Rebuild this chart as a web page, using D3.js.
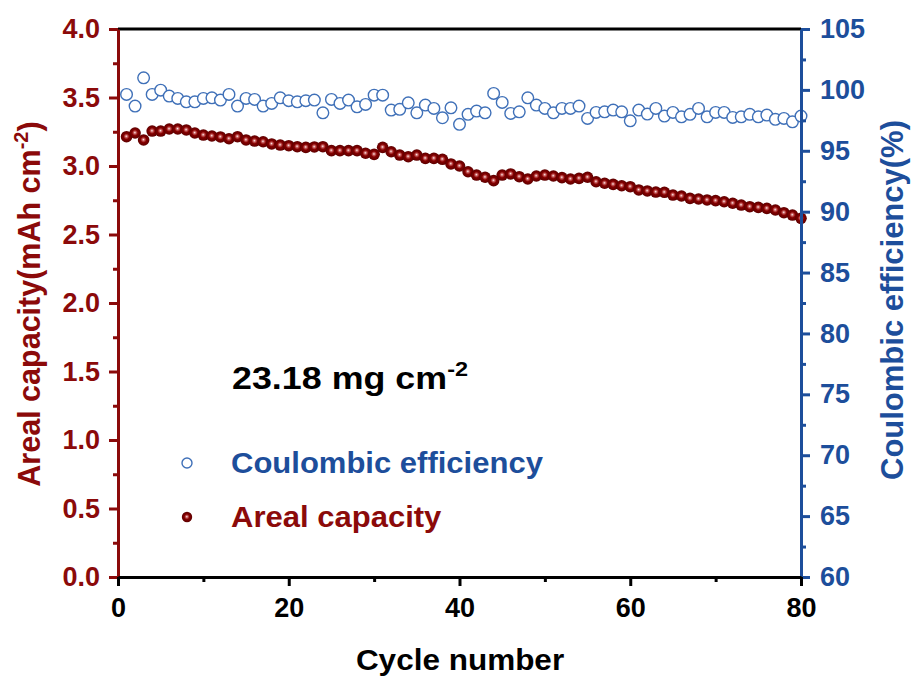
<!DOCTYPE html>
<html>
<head>
<meta charset="utf-8">
<script src="https://cdn.jsdelivr.net/npm/d3@7"></script>
<style>
  html, body { margin: 0; padding: 0; background: #fff; }
  svg text { font-family: "Liberation Sans", Arial, sans-serif; font-weight: bold; }
</style>
</head>
<body>
<svg id="chart" width="912" height="680"></svg>
<script>
// Cycle index 1..80
const cycles = d3.range(1, 81);

// Areal capacity (mAh cm^-2) per cycle
const capacity = [
  3.214, 3.241, 3.190, 3.255, 3.255, 3.270, 3.270, 3.263, 3.241, 3.226,
  3.219, 3.212, 3.199, 3.214, 3.190, 3.182, 3.177, 3.161, 3.153, 3.148,
  3.141, 3.136, 3.139, 3.141, 3.112, 3.112, 3.112, 3.112, 3.093, 3.085,
  3.136, 3.104, 3.080, 3.068, 3.080, 3.056, 3.056, 3.049, 3.015, 3.000,
  2.958, 2.934, 2.918, 2.893, 2.934, 2.942, 2.922, 2.905, 2.927, 2.934,
  2.927, 2.915, 2.905, 2.910, 2.918, 2.885, 2.874, 2.866, 2.856, 2.849,
  2.825, 2.818, 2.810, 2.808, 2.788, 2.781, 2.764, 2.759, 2.752, 2.747,
  2.739, 2.728, 2.715, 2.703, 2.698, 2.691, 2.679, 2.659, 2.642, 2.618
];

// Coulombic efficiency (%) per cycle
const efficiency = [
  99.63, 98.67, 100.99, 99.63, 99.98, 99.49, 99.30, 99.02, 99.02, 99.30,
  99.35, 99.16, 99.63, 98.67, 99.30, 99.22, 98.67, 98.89, 99.35, 99.11,
  99.02, 99.11, 99.16, 98.12, 99.22, 98.89, 99.16, 98.61, 98.81, 99.57,
  99.57, 98.34, 98.40, 98.94, 98.12, 98.75, 98.48, 97.71, 98.53, 97.17,
  97.99, 98.26, 98.12, 99.71, 98.97, 98.07, 98.20, 99.35, 98.75, 98.48,
  98.12, 98.48, 98.48, 98.67, 97.66, 98.15, 98.20, 98.34, 98.20, 97.46,
  98.34, 98.01, 98.48, 97.85, 98.15, 97.79, 97.99, 98.48, 97.79, 98.15,
  98.15, 97.74, 97.79, 97.99, 97.79, 97.93, 97.58, 97.66, 97.38, 97.85
];

// Tick values
const xTicks = [0, 20, 40, 60, 80];
const xMinor = [10, 30, 50, 70];
const capTicks = [0, 0.5, 1.0, 1.5, 2.0, 2.5, 3.0, 3.5, 4.0];
const capMinor = [0.25, 0.75, 1.25, 1.75, 2.25, 2.75, 3.25, 3.75];
const ceTicks = [60, 65, 70, 75, 80, 85, 90, 95, 100, 105];
const ceMinor = [62.5, 67.5, 72.5, 77.5, 82.5, 87.5, 92.5, 97.5, 102.5];

const RED = "#8b0a0a";
const BLUE = "#1d4e9b";
const CE_STROKE = "#3f70b8";

const svg = d3.select("#chart");
const plot = { left: 118, right: 801, top: 29, bottom: 577 };

const x = d3.scaleLinear().domain([0, 80]).range([plot.left, plot.right]);
const yCap = d3.scaleLinear().domain([0, 4]).range([plot.bottom, plot.top]);
const yCE = d3.scaleLinear().domain([60, 105]).range([plot.bottom, plot.top]);

// Shaded sphere fill for the capacity markers
const defs = svg.append("defs");
const grad = defs.append("radialGradient")
  .attr("id", "ball").attr("cx", "50%").attr("cy", "50%").attr("r", "50%")
  .attr("fx", "48%").attr("fy", "46%");
grad.append("stop").attr("offset", "0%").attr("stop-color", "#fbeeee");
grad.append("stop").attr("offset", "22%").attr("stop-color", "#c86060");
grad.append("stop").attr("offset", "50%").attr("stop-color", "#850000");
grad.append("stop").attr("offset", "100%").attr("stop-color", "#5c0000");

// Data points
svg.append("g").selectAll("circle")
  .data(cycles)
  .join("circle")
  .attr("cx", (d) => x(d))
  .attr("cy", (d, i) => yCE(efficiency[i]))
  .attr("r", 5.8)
  .attr("fill", "#fff")
  .attr("stroke", CE_STROKE)
  .attr("stroke-width", 1.4);

svg.append("g").selectAll("circle")
  .data(cycles)
  .join("circle")
  .attr("cx", (d) => x(d))
  .attr("cy", (d, i) => yCap(capacity[i]))
  .attr("r", 5.8)
  .attr("fill", "url(#ball)");

// Top frame
svg.append("line")
  .attr("x1", plot.left).attr("x2", plot.right)
  .attr("y1", plot.top).attr("y2", plot.top)
  .attr("stroke", "#000").attr("stroke-width", 3);

function styleAxis(g, color) {
  g.select(".domain").attr("stroke", color).attr("stroke-width", 3);
  g.selectAll(".tick line").attr("stroke", color).attr("stroke-width", 3);
  g.selectAll(".tick text").attr("fill", color);
}

// Minor ticks (no labels)
svg.append("g")
  .attr("transform", `translate(0,${plot.bottom})`)
  .call(d3.axisBottom(x).tickValues(xMinor).tickSize(5).tickFormat(""))
  .call((g) => { g.select(".domain").remove(); g.selectAll("line").attr("stroke", "#000").attr("stroke-width", 3); });
svg.append("g")
  .attr("transform", `translate(${plot.left},0)`)
  .call(d3.axisLeft(yCap).tickValues(capMinor).tickSize(5).tickFormat(""))
  .call((g) => { g.select(".domain").remove(); g.selectAll("line").attr("stroke", RED).attr("stroke-width", 3); });
svg.append("g")
  .attr("transform", `translate(${plot.right},0)`)
  .call(d3.axisRight(yCE).tickValues(ceMinor).tickSize(5).tickFormat(""))
  .call((g) => { g.select(".domain").remove(); g.selectAll("line").attr("stroke", BLUE).attr("stroke-width", 3); });

// Left axis: areal capacity
svg.append("g")
  .attr("transform", `translate(${plot.left},0)`)
  .call(d3.axisLeft(yCap).tickValues(capTicks).tickSize(9).tickSizeOuter(0).tickPadding(9).tickFormat(d3.format(".1f")))
  .call((g) => styleAxis(g, RED))
  .call((g) => g.selectAll(".tick text").attr("font-size", 27));

// Right axis: coulombic efficiency
svg.append("g")
  .attr("transform", `translate(${plot.right},0)`)
  .call(d3.axisRight(yCE).tickValues(ceTicks).tickSize(9).tickSizeOuter(0).tickPadding(10).tickFormat(d3.format("d")))
  .call((g) => styleAxis(g, BLUE))
  .call((g) => g.selectAll(".tick text").attr("font-size", 27));

// Bottom axis: cycle number
svg.append("g")
  .attr("transform", `translate(0,${plot.bottom})`)
  .call(d3.axisBottom(x).tickValues(xTicks).tickSize(9).tickSizeOuter(0).tickPadding(12).tickFormat(d3.format("d")))
  .call((g) => styleAxis(g, "#000"))
  .call((g) => g.selectAll(".tick text").attr("font-size", 27));

// Axis titles
svg.append("text")
  .attr("transform", "translate(460,670) scale(1.05,1)")
  .attr("text-anchor", "middle")
  .attr("font-size", 30)
  .attr("fill", "#000")
  .text("Cycle number");

const leftTitle = svg.append("text")
  .attr("transform", "translate(40,304) rotate(-90)")
  .attr("text-anchor", "middle")
  .attr("font-size", 30.5)
  .attr("fill", RED);
leftTitle.append("tspan").text("Areal capacity(mAh cm");
leftTitle.append("tspan").attr("dy", -12).attr("font-size", 20).text("-2");
leftTitle.append("tspan").attr("dy", 12).text(")");

svg.append("text")
  .attr("transform", "translate(903,300) rotate(-90)")
  .attr("text-anchor", "middle")
  .attr("font-size", 31)
  .attr("fill", BLUE)
  .text("Coulombic efficiency(%)");

// Loading annotation
const note = svg.append("text")
  .attr("transform", "translate(232,389) scale(1.12,1)")
  .attr("font-size", 32)
  .attr("fill", "#000");
note.append("tspan").text("23.18 mg cm");
note.append("tspan").attr("dy", -13).attr("font-size", 21).text("-2");

// Legend
const legend = svg.append("g");
legend.append("circle")
  .attr("cx", 187).attr("cy", 463).attr("r", 5)
  .attr("fill", "#fff").attr("stroke", CE_STROKE).attr("stroke-width", 1.4);
legend.append("text")
  .attr("transform", "translate(231,473) scale(1.07,1)")
  .attr("font-size", 29).attr("fill", BLUE)
  .text("Coulombic efficiency");
legend.append("circle")
  .attr("cx", 187).attr("cy", 517).attr("r", 5.2)
  .attr("fill", "url(#ball)");
legend.append("text")
  .attr("transform", "translate(231,527) scale(1.07,1)")
  .attr("font-size", 29).attr("fill", RED)
  .text("Areal capacity");
</script>
</body>
</html>
